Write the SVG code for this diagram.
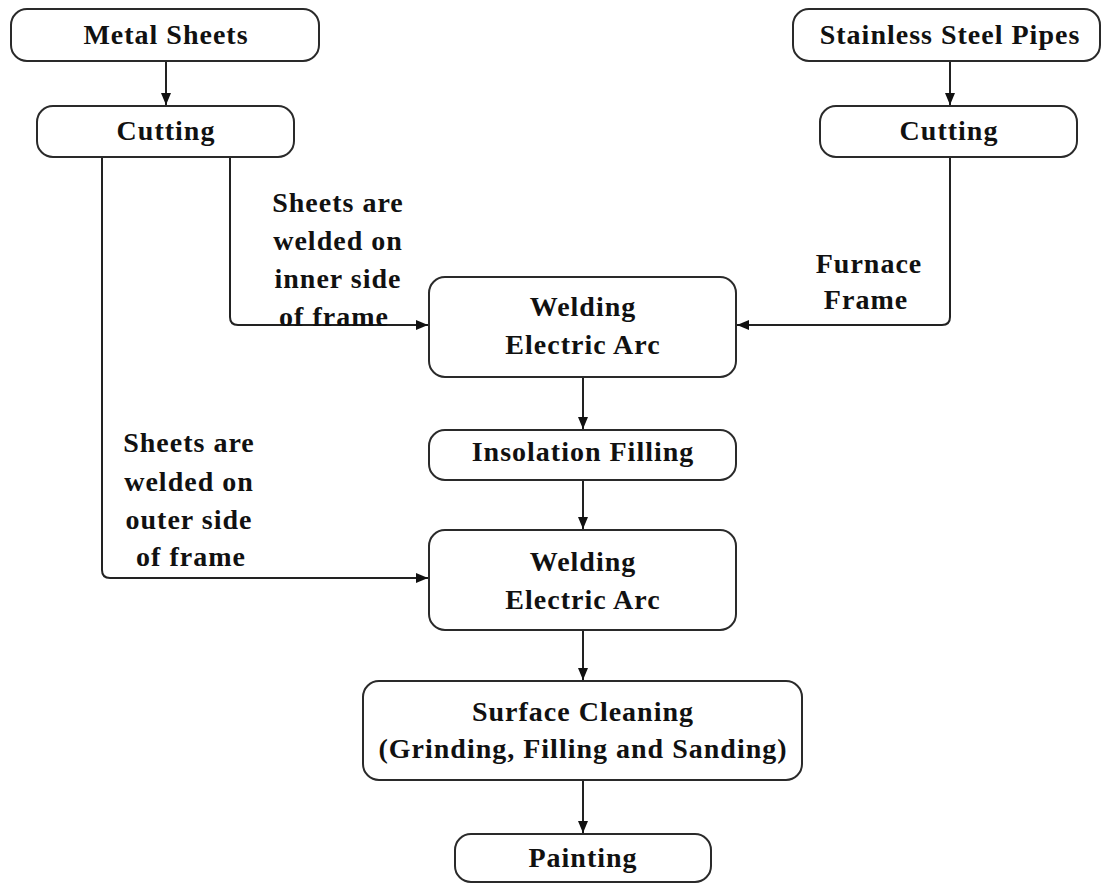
<svg xmlns="http://www.w3.org/2000/svg" width="1101" height="883" viewBox="0 0 1101 883">
<style>
.box{fill:#fff;stroke:#2a2a2a;stroke-width:2}
.t{font-family:"Liberation Serif","Times New Roman",serif;font-weight:bold;font-size:28px;fill:#111;text-anchor:middle;letter-spacing:1px}
.c{fill:none;stroke:#222;stroke-width:2}
</style>
<defs>
<marker id="ah" markerWidth="12" markerHeight="10" refX="12" refY="5" orient="auto" markerUnits="userSpaceOnUse">
<path d="M0,0 L12,5 L0,10 Z" fill="#111"/>
</marker>
</defs>
<rect width="1101" height="883" fill="#fff"/>
<g id="connectors">
<path class="c" d="M166,61 V105" marker-end="url(#ah)"/>
<path class="c" d="M950,61 V105" marker-end="url(#ah)"/>
<path class="c" d="M230,157 V317 Q230,325 238,325 H428" marker-end="url(#ah)"/>
<path class="c" d="M950,157 V317 Q950,325 942,325 H737" marker-end="url(#ah)"/>
<path class="c" d="M102,157 V570 Q102,578 110,578 H428" marker-end="url(#ah)"/>
<path class="c" d="M583,377 V429" marker-end="url(#ah)"/>
<path class="c" d="M583,480 V529" marker-end="url(#ah)"/>
<path class="c" d="M583,630 V680" marker-end="url(#ah)"/>
<path class="c" d="M583,780 V833" marker-end="url(#ah)"/>
</g>
<g id="metal-sheets"><rect class="box" x="11" y="9" width="308" height="52" rx="16"/><text class="t" x="166" y="44">Metal Sheets</text></g>
<g id="cutting-left"><rect class="box" x="37" y="106" width="257" height="51" rx="16"/><text class="t" x="166" y="140">Cutting</text></g>
<g id="stainless-pipes"><rect class="box" x="793" y="9" width="307" height="52" rx="16"/><text class="t" x="950" y="44">Stainless Steel Pipes</text></g>
<g id="cutting-right"><rect class="box" x="820" y="106" width="257" height="51" rx="16"/><text class="t" x="949" y="140">Cutting</text></g>
<g id="label-inner"><text class="t"><tspan x="338" y="212">Sheets are</tspan><tspan x="338" y="250">welded on</tspan><tspan x="338" y="288">inner side</tspan><tspan x="334" y="326">of frame</tspan></text></g>
<g id="label-furnace"><text class="t"><tspan x="869" y="273">Furnace</tspan><tspan x="866" y="309">Frame</tspan></text></g>
<g id="welding-1"><rect class="box" x="429" y="277" width="307" height="100" rx="16"/><text class="t"><tspan x="583" y="316">Welding</tspan><tspan x="583" y="354">Electric Arc</tspan></text></g>
<g id="insolation"><rect class="box" x="429" y="430" width="307" height="50" rx="16"/><text class="t" x="583" y="461">Insolation Filling</text></g>
<g id="label-outer"><text class="t"><tspan x="189" y="452">Sheets are</tspan><tspan x="189" y="491">welded on</tspan><tspan x="189" y="529">outer side</tspan><tspan x="191" y="566">of frame</tspan></text></g>
<g id="welding-2"><rect class="box" x="429" y="530" width="307" height="100" rx="16"/><text class="t"><tspan x="583" y="571">Welding</tspan><tspan x="583" y="609">Electric Arc</tspan></text></g>
<g id="surface-cleaning"><rect class="box" x="363" y="681" width="439" height="99" rx="16"/><text class="t"><tspan x="583" y="721">Surface Cleaning</tspan><tspan x="583" y="758">(Grinding, Filling and Sanding)</tspan></text></g>
<g id="painting"><rect class="box" x="455" y="834" width="256" height="48" rx="16"/><text class="t" x="583" y="867">Painting</text></g>
</svg>
